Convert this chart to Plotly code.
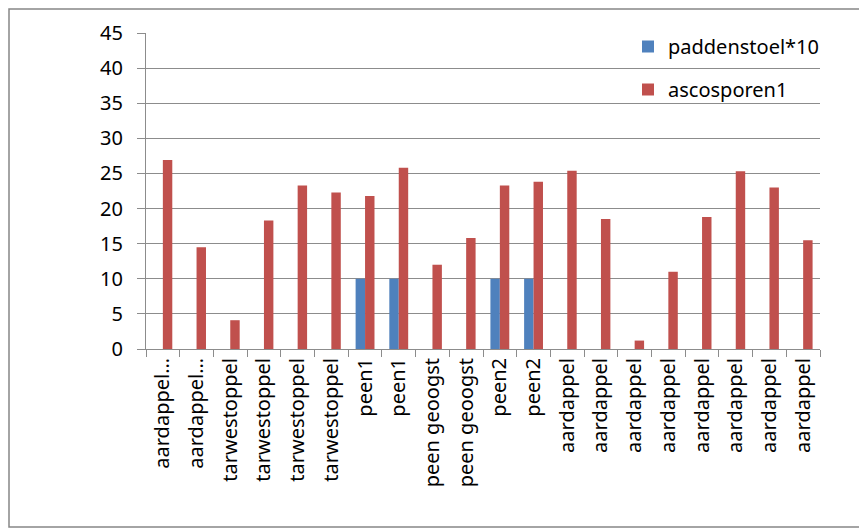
import plotly.graph_objects as go

categories = ["aardappel…", "aardappel…", "tarwestoppel", "tarwestoppel", "tarwestoppel",
              "tarwestoppel", "peen1", "peen1", "peen geoogst", "peen geoogst",
              "peen2", "peen2", "aardappel", "aardappel", "aardappel", "aardappel",
              "aardappel", "aardappel", "aardappel", "aardappel"]
paddenstoel10 = [0, 0, 0, 0, 0, 0, 10, 10, 0, 0, 10, 10, 0, 0, 0, 0, 0, 0, 0, 0]
ascosporen1 = [26.9, 14.5, 4.1, 18.3, 23.3, 22.3, 21.8, 25.8, 12.0, 15.8,
               23.3, 23.8, 25.4, 18.5, 1.2, 11.0, 18.8, 25.3, 23.0, 15.5]
y_ticks = [0, 5, 10, 15, 20, 25, 30, 35, 40, 45]

xpos = list(range(len(categories)))
FONT = "Noto Sans"
GRID = "#8c8c8c"
FS = 20

fig = go.Figure()
fig.add_trace(go.Bar(x=xpos, y=paddenstoel10, name="paddenstoel*10",
                     marker=dict(color="#4F81BD", line=dict(width=0)),
                     legendgroup="a"))
fig.add_trace(go.Bar(x=xpos, y=ascosporen1, name="ascosporen1",
                     marker=dict(color="#C0504D", line=dict(width=0)),
                     legendgroup="b"))

OFF = 8  # page body offset
W, H = 867, 530
L = 146 - OFF
T = 33 - OFF
R = W - (820 - OFF)
B = H - (349 - OFF)
pw = W - L - R
ph = H - T - B

def px_x(p):
    return (p - OFF - L) / pw

def px_y(p):
    return (H - B - (p - OFF)) / ph

fig.update_layout(
    width=W, height=H,
    margin=dict(l=L, r=R, t=T, b=B),
    paper_bgcolor="white", plot_bgcolor="white",
    barmode="group", bargap=0.44, bargroupgap=0,
    font=dict(family=FONT, size=FS, color="#000000"),
    showlegend=True,
    legend=dict(x=px_x(628), y=px_y(27), xanchor="left", yanchor="top",
                bgcolor="rgba(0,0,0,0)", font=dict(size=FS, family=FONT),
                traceorder="grouped", tracegroupgap=14, itemwidth=30),
    xaxis=dict(range=[-0.5, len(categories) - 0.5], tickmode="array",
               tickvals=xpos, ticktext=categories, tickangle=-90,
               ticks="", showgrid=False, showline=True, linecolor=GRID,
               linewidth=1, zeroline=False,
               tickfont=dict(size=FS, family=FONT),
               minor=dict(tick0=0.5, dtick=1, ticks="outside", ticklen=7,
                          tickcolor=GRID, tickwidth=1, showgrid=False)),
    yaxis=dict(range=[0, 45], tickmode="array", tickvals=y_ticks,
               showgrid=True, gridcolor=GRID, gridwidth=1,
               showline=True, linecolor=GRID, linewidth=1,
               ticks="outside", ticklen=8, tickcolor=GRID,
               ticklabelstandoff=10,
               zeroline=False, tickfont=dict(size=FS, family=FONT)),
    shapes=[dict(type="rect", xref="paper", yref="paper",
                 x0=px_x(OFF + 1), x1=px_x(865), y0=px_y(527), y1=px_y(OFF + 1),
                 line=dict(color="#868686", width=1.5), layer="below")],
)

fig.write_html("out.html")
